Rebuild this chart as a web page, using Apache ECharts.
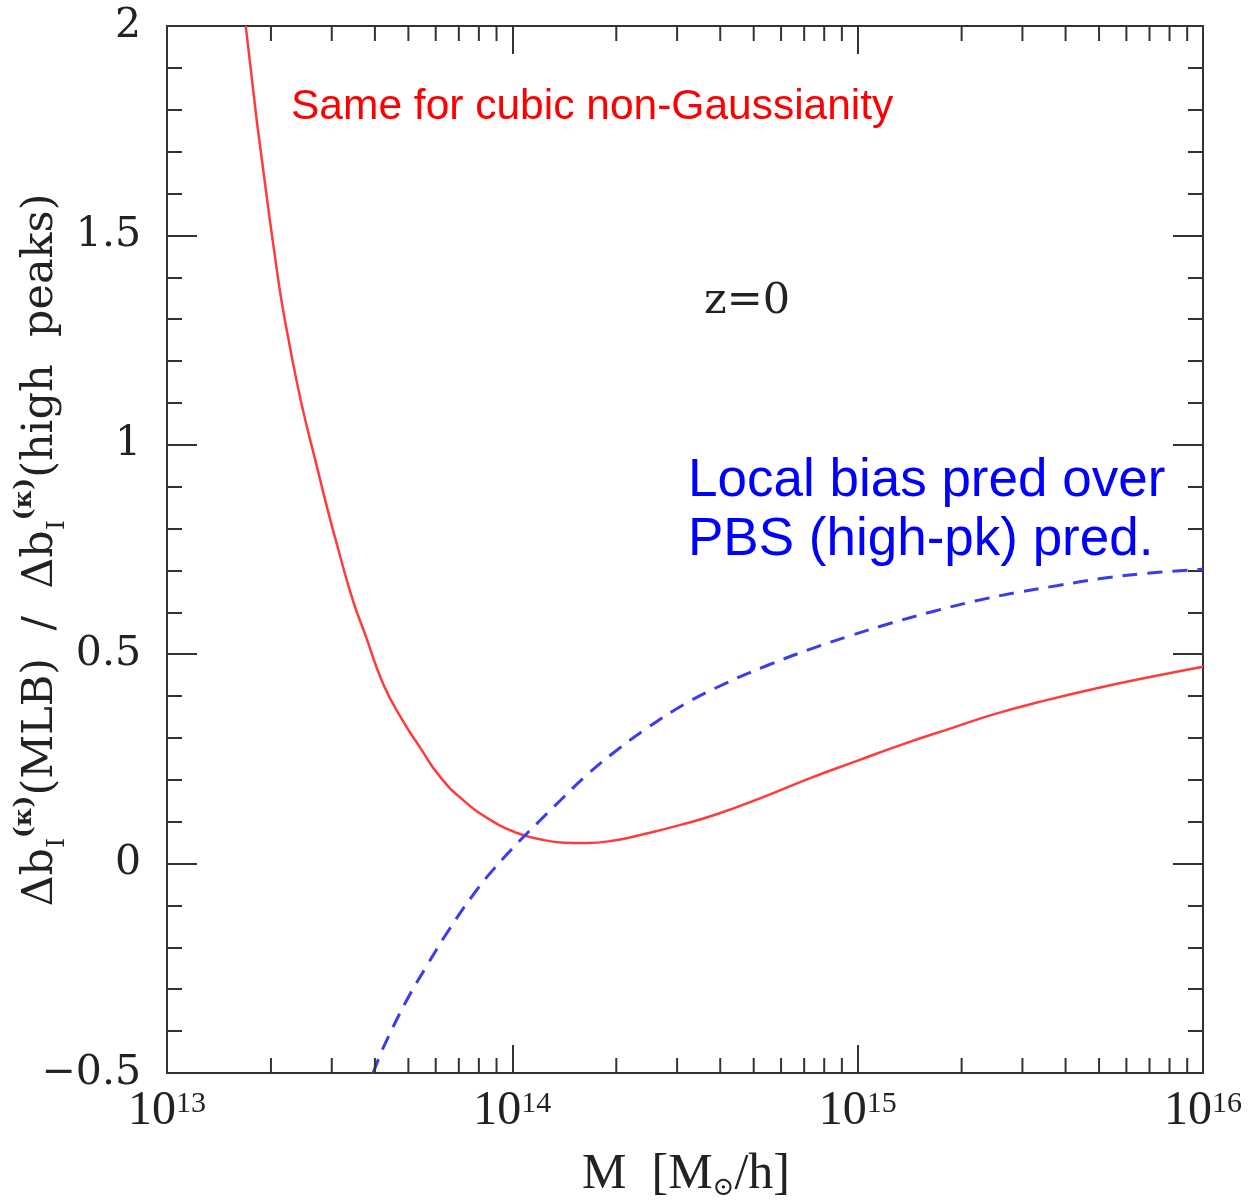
<!DOCTYPE html>
<html><head><meta charset="utf-8">
<script src="https://cdn.jsdelivr.net/npm/echarts@6/dist/echarts.min.js"></script>
<style>html,body{margin:0;padding:0;background:#fff}#c{width:1253px;height:1204px}</style>
</head><body><div id="c"></div>
<script>
// log10(M) positions and values
const redX = [13.228, 13.298, 13.365, 13.443, 13.501, 13.539, 13.573, 13.626, 13.683, 13.733, 13.791, 13.857, 13.935, 14.014, 14.080, 14.150, 14.216, 14.300, 14.379, 14.490, 14.596, 14.730, 14.859, 15.0, 15.134, 15.270, 15.401, 15.550, 15.699, 15.850, 16.0];
const redY = [2.0, 1.536, 1.195, 0.918, 0.735, 0.627, 0.549, 0.429, 0.341, 0.277, 0.207, 0.152, 0.105, 0.073, 0.058, 0.050, 0.049, 0.056, 0.070, 0.093, 0.119, 0.160, 0.203, 0.246, 0.286, 0.323, 0.358, 0.391, 0.420, 0.446, 0.470];
const blueX = [13.597, 13.626, 13.695, 13.753, 13.811, 13.886, 13.944, 14.022, 14.080, 14.138, 14.211, 14.295, 14.379, 14.497, 14.619, 14.738, 14.859, 14.978, 15.100, 15.218, 15.340, 15.459, 15.580, 15.699, 15.821, 16.0];
const blueY = [-0.5, -0.440, -0.325, -0.243, -0.165, -0.075, -0.015, 0.055, 0.103, 0.150, 0.208, 0.266, 0.317, 0.380, 0.431, 0.473, 0.511, 0.544, 0.575, 0.602, 0.627, 0.647, 0.664, 0.680, 0.692, 0.703];
const xDecades = [13, 14, 15, 16];
const yTickLabels = ['2', '1.5', '1', '0.5', '0', '\u22120.5'];
const minorMultipliers = [2, 3, 4, 5, 6, 7, 8, 9];

const xMinor = [];
xDecades.slice(0, 3).forEach(d => minorMultipliers.forEach(k => xMinor.push([d + Math.log10(k), 0])));

const AX = '#333';
const chart = echarts.init(document.getElementById('c'));
const commonX = { type: 'value', min: 13, max: 16, interval: 1, splitLine: { show: false },
  axisLine: { show: true, onZero: false, lineStyle: { color: AX, width: 2 } },
  axisTick: { show: true, inside: true, length: 28, lineStyle: { color: AX, width: 2 } } };
const commonY = { type: 'value', min: -0.5, max: 2, interval: 0.5, splitLine: { show: false },
  axisLine: { show: true, onZero: false, lineStyle: { color: AX, width: 2 } },
  axisTick: { show: true, inside: true, length: 30, lineStyle: { color: AX, width: 2 } },
  minorTick: { show: true, splitNumber: 5, length: 15, lineStyle: { color: AX, width: 2 } } };

chart.setOption({
  animation: false,
  grid: { left: 167, right: 50, top: 26, bottom: 131, containLabel: false },
  xAxis: [
    Object.assign({}, commonX, { position: 'bottom',
      axisLabel: { margin: 16, formatter: v => '{b|10}{s|' + Math.round(v) + '}',
        rich: { b: { fontFamily: 'Liberation Serif', fontSize: 48, color: '#222', lineHeight: 46, verticalAlign: 'bottom' },
                s: { fontFamily: 'Liberation Serif', fontSize: 30, color: '#222', lineHeight: 30, verticalAlign: 'top' } } } }),
    Object.assign({}, commonX, { position: 'top', axisLabel: { show: false } })
  ],
  yAxis: [
    Object.assign({}, commonY, { position: 'left',
      axisLabel: { margin: 26, fontFamily: 'DejaVu Serif', fontSize: 41, color: '#222',
        formatter: v => yTickLabels[Math.round((2 - v) / 0.5)] } }),
    Object.assign({}, commonY, { position: 'right', axisLabel: { show: false } })
  ],
  series: [
    { type: 'line', data: redX.map((x, i) => [x, redY[i]]), showSymbol: false, smooth: 0.5,
      lineStyle: { color: '#ff3b3b', width: 2.5 }, z: 3 },
    { type: 'line', data: blueX.map((x, i) => [x, blueY[i]]), showSymbol: false, smooth: 0.4,
      lineStyle: { color: '#3b3bf2', width: 3, type: [15, 10] }, z: 3 },
    { type: 'custom', data: xMinor, clip: false, silent: true, z: 4,
      renderItem: (params, api) => {
        const x = api.value(0);
        const pb = api.coord([x, -0.5]);
        const pt = api.coord([x, 2]);
        const st = { stroke: AX, lineWidth: 2 };
        return { type: 'group', children: [
          { type: 'line', shape: { x1: pb[0], y1: pb[1], x2: pb[0], y2: pb[1] - 15 }, style: st },
          { type: 'line', shape: { x1: pt[0], y1: pt[1], x2: pt[0], y2: pt[1] + 15 }, style: st }
        ] };
      } }
  ],
  graphic: [
    { type: 'text', left: 291, top: 86, style: { text: 'Same for cubic non-Gaussianity', fontFamily: 'Liberation Sans', fontSize: 42.5, fill: '#ff0000' } },
    { type: 'text', left: 704, top: 280, style: { text: 'z=0', fontFamily: 'DejaVu Serif', fontSize: 43, fill: '#222' } },
    { type: 'text', left: 688, top: 452, style: { text: 'Local bias pred over\nPBS (high-pk) pred.', fontFamily: 'Liberation Sans', fontSize: 53, lineHeight: 59, fill: '#0000ff' } },
    { type: 'text', x: 686, y: 1175, style: { text: '{a|M  [M}{o|\u2299}{a|/h]}', align: 'center', verticalAlign: 'middle',
        rich: { a: { fontFamily: 'Liberation Serif', fontSize: 50, fill: '#222', lineHeight: 52 },
                o: { fontFamily: 'DejaVu Serif', fontSize: 26, fill: '#222', lineHeight: 52, verticalAlign: 'bottom' } } } },
    { type: 'text', x: 41, y: 550, rotation: Math.PI / 2, style: {
        text: '{a|\u0394b}{sub|I}{sup|(\u03ba)}{a|(MLB)  /  \u0394b}{sub|I}{sup|(\u03ba)}{a|(high  peaks)}',
        align: 'center', verticalAlign: 'middle',
        rich: { a: { fontFamily: 'DejaVu Serif', fontSize: 43, fill: '#222', lineHeight: 58, verticalAlign: 'middle' },
                sub: { fontFamily: 'DejaVu Serif', fontSize: 25, fill: '#222', lineHeight: 58, verticalAlign: 'bottom' },
                sup: { fontFamily: 'DejaVu Serif', fontSize: 25, fontWeight: 'bold', fill: '#222', lineHeight: 58, verticalAlign: 'top' } } } }
  ]
});
</script></body></html>
